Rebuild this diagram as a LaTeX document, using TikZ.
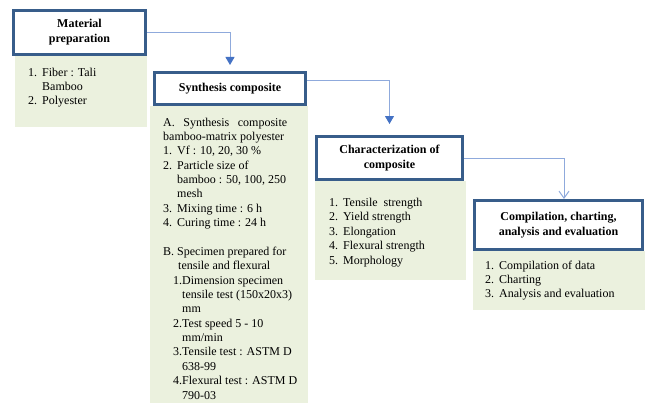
\documentclass[tikz,border=0pt]{standalone}
\usepackage{fontspec}
\setmainfont{Liberation Serif}
\usetikzlibrary{arrows.meta}
\definecolor{boxblue}{HTML}{385D8A}
\definecolor{panelgreen}{HTML}{EBF1DE}
\definecolor{linkblue}{HTML}{8FAADC}
\definecolor{tipblue}{HTML}{4472C4}
\newcommand{\itm}[1]{\makebox[14pt][l]{#1}}
\newcommand{\ind}{\hspace*{14pt}}
\begin{document}
\begin{tikzpicture}[x=1pt,y=-1pt,
  headbox/.style={draw=boxblue,line width=3pt,fill=white,inner sep=0pt,
    align=center,font=\fontsize{12}{15}\selectfont\bfseries},
  panel/.style={fill=panelgreen,inner sep=0pt,anchor=north west},
  paneltext/.style={inner sep=0pt,anchor=base west},
  link/.style={draw=linkblue,line width=1pt,-{Triangle[length=8pt,width=9pt,color=tipblue]}},
  openlink/.style={draw=linkblue,line width=1pt,-{Straight Barb[length=7pt,width=10pt]}}
]
\useasboundingbox (0,0) rectangle (648,404);
% green panels
\node[panel,minimum width=132pt,minimum height=71pt] (g1) at (15,56) {};
\node[panel,minimum width=158pt,minimum height=297pt] (g2) at (150,106) {};
\node[panel,minimum width=151pt,minimum height=99pt] (g3) at (315,181) {};
\node[panel,minimum width=172pt,minimum height=59pt] (g4) at (473,251) {};
% heading boxes
\node[headbox,minimum width=132pt,minimum height=44pt] (mat) at (79.5,32.5) {Material\\preparation};
\node[headbox,minimum width=151pt,minimum height=32pt] (syn) at (230,88.5) {Synthesis composite};
\node[headbox,minimum width=146pt,minimum height=43pt] (char) at (389.5,158) {Characterization of\\composite};
\node[headbox,minimum width=168pt,minimum height=49pt] (comp) at (558.5,225) {Compilation, charting,\\analysis and evaluation};
% panel texts
\node[paneltext] (t1) at (28,77) {\begin{minipage}[t]{118pt}\fontsize{12}{14}\selectfont
\itm{1.}Fiber : Tali\\
\ind Bamboo\\
\itm{2.}Polyester
\end{minipage}};
\node[paneltext] (t2) at (163,126) {\begin{minipage}[t]{145pt}\fontsize{12}{14.37}\selectfont
\makebox[124pt][s]{A. Synthesis composite}\\
bamboo-matrix polyester\\
\itm{1.}Vf : 10, 20, 30 \%\\
\itm{2.}Particle size of\\
\ind bamboo : 50, 100, 250\\
\ind mesh\\
\itm{3.}Mixing time : 6 h\\
\itm{4.}Curing time : 24 h\\
\mbox{}\\
\itm{B.}Specimen prepared for\\
\hspace*{15pt}tensile and flexural\\
\hspace*{10pt}\makebox[9pt][l]{1.}Dimension specimen\\
\hspace*{19pt}tensile test (150x20x3)\\
\hspace*{19pt}mm\\
\hspace*{10pt}\makebox[9pt][l]{2.}Test speed 5 - 10\\
\hspace*{19pt}mm/min\\
\hspace*{10pt}\makebox[9pt][l]{3.}Tensile test : ASTM D\\
\hspace*{19pt}638-99\\
\hspace*{10pt}\makebox[9pt][l]{4.}Flexural test : ASTM D\\
\hspace*{19pt}790-03
\end{minipage}};
\node[paneltext] (t3) at (329,206) {\begin{minipage}[t]{135pt}\fontsize{12}{14.5}\selectfont
\itm{1.}Tensile\ \ strength\\
\itm{2.}Yield strength\\
\itm{3.}Elongation\\
\itm{4.}Flexural strength\\
\itm{5.}Morphology
\end{minipage}};
\node[paneltext] (t4) at (485,269) {\begin{minipage}[t]{158pt}\fontsize{12}{14}\selectfont
\itm{1.}Compilation of data\\
\itm{2.}Charting\\
\itm{3.}Analysis and evaluation
\end{minipage}};
% connectors
\draw[link] (mat.east) -| ([yshift=6pt]syn.north);
\draw[link] (syn.east |- 0,81) -| ([yshift=11pt]char.north);
\draw[openlink] (char.east) -| ([xshift=5.5pt]comp.north);
\end{tikzpicture}
\end{document}
